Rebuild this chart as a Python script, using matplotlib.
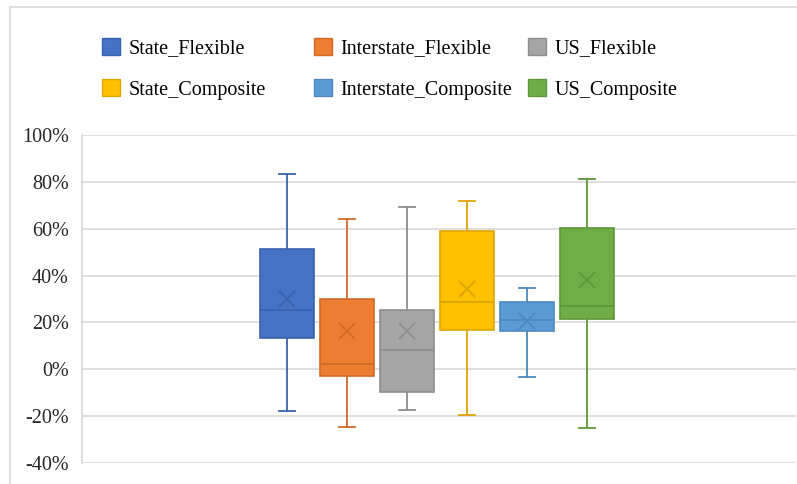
import matplotlib.pyplot as plt
import matplotlib.patches as mpatches
from matplotlib.ticker import FuncFormatter

plt.rcParams['font.family'] = ['Liberation Serif', 'DejaVu Serif']

# series (percent)
series = ['State_Flexible', 'Interstate_Flexible', 'US_Flexible',
          'State_Composite', 'Interstate_Composite', 'US_Composite']
whis_low = [-17.9, -24.7, -17.3, -19.7, -3.3, -25.0]
q1 = [13.5, -2.8, -9.6, 16.6, 16.2, 21.3]
median = [25.1, 2.1, 8.4, 28.9, 20.9, 26.8]
q3 = [51.4, 29.8, 25.2, 59.1, 28.9, 60.4]
whis_high = [83.3, 64.1, 69.1, 71.8, 34.6, 81.4]
mean = [29.8, 16.3, 16.3, 34.3, 20.6, 38.3]

fills = ['#4472C4', '#ED7D31', '#A5A5A5', '#FFC000', '#5B9BD5', '#70AD47']
edges = ['#3A63AD', '#D06A28', '#8E8E8E', '#DDA600', '#4E88BE', '#5E963A']

fig = plt.figure(figsize=(7.97, 4.84), dpi=100)
ax = fig.add_axes([82 / 797, 1 - 463 / 484, 714 / 797, (463 - 135) / 484])

# chart border like the Excel frame
fig.patches.append(mpatches.Rectangle((10 / 797, -0.01), 1.0, 1 - 7 / 484 + 0.01,
                                      transform=fig.transFigure, fill=False,
                                      edgecolor='#D9D9D9', linewidth=1.2))

for i in range(len(series)):
    stats = [dict(whislo=whis_low[i], q1=q1[i], med=median[i], q3=q3[i],
                  whishi=whis_high[i], mean=mean[i], fliers=[])]
    ax.bxp(stats, positions=[i], widths=0.9, showmeans=True, patch_artist=True,
           boxprops=dict(facecolor=fills[i], edgecolor=edges[i], linewidth=1.2),
           medianprops=dict(color=edges[i], linewidth=1.3),
           whiskerprops=dict(color=edges[i], linewidth=1.3),
           capprops=dict(color=edges[i], linewidth=1.3),
           meanprops=dict(marker='x', markeredgecolor=edges[i], markersize=11,
                          markeredgewidth=1.3),
           capwidths=0.27, manage_ticks=False)

ax.set_xlim(2.5 - 355 / 60, 2.5 + 359 / 60)
ax.set_ylim(-40, 100)
ax.set_yticks(range(-40, 101, 20))
ax.yaxis.set_major_formatter(FuncFormatter(lambda v, p: f'{v:.0f}%'))
ax.set_xticks([])
ax.grid(axis='y', color='#D9D9D9', linewidth=1.2)
ax.set_axisbelow(True)
for s in ['top', 'right', 'bottom']:
    ax.spines[s].set_visible(False)
ax.spines['left'].set_color('#D9D9D9')
ax.spines['left'].set_linewidth(1.2)
ax.tick_params(axis='y', length=0, labelsize=14.5, colors='#262626', pad=9.5)

# legend: three fixed-width columns, two rows
col_x = [102, 314, 528]
for c in range(3):
    handles = [mpatches.Patch(facecolor=fills[i], edgecolor=edges[i], label=series[i])
               for i in (c, c + 3)]
    leg = fig.legend(handles=handles, loc='upper left',
                     bbox_to_anchor=(col_x[c] / 797, 1 - 38 / 484),
                     ncol=1, frameon=False, fontsize=14.5, handlelength=0.9,
                     handleheight=0.9, handletextpad=0.42, labelspacing=1.05,
                     borderaxespad=0, borderpad=0)

fig.savefig('out.png', dpi=100)
